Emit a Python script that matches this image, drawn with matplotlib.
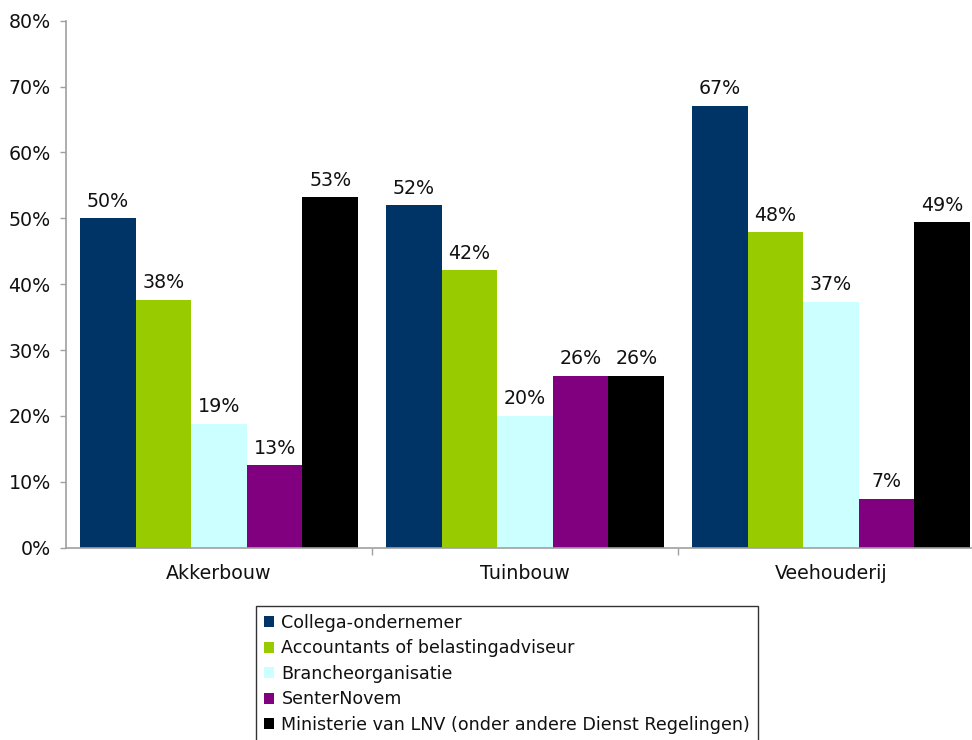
import numpy as np
import matplotlib
matplotlib.use("Agg")
import matplotlib.pyplot as plt
from matplotlib.patches import Patch

categories = ["Akkerbouw", "Tuinbouw", "Veehouderij"]
series = ["Collega-ondernemer", "Accountants of belastingadviseur",
          "Brancheorganisatie", "SenterNovem",
          "Ministerie van LNV (onder andere Dienst Regelingen)"]
colors = ["#003366", "#99CC00", "#CCFFFF", "#800080", "#000000"]

collega = [50.0, 52.0, 67.1]
accountants = [37.6, 42.1, 47.9]
branche = [18.8, 20.0, 37.3]
senternovem = [12.5, 26.1, 7.4]
ministerie = [53.2, 26.1, 49.4]
values = [collega, accountants, branche, senternovem, ministerie]

labels = [["50%", "52%", "67%"],
          ["38%", "42%", "48%"],
          ["19%", "20%", "37%"],
          ["13%", "26%", "7%"],
          ["53%", "26%", "49%"]]

W, H = 972, 740
fig = plt.figure(figsize=(W / 100, H / 100), dpi=100)
plt.rcParams['font.family'] = ['DejaVu Sans']
fs = 13.7
txt = '#111111'

# axes runs past the right edge of the picture, like the original
left, right, top, bottom = 66, 984, 20.7, 547.7
ax = fig.add_axes([left / W, 1 - bottom / H, (right - left) / W, (bottom - top) / H])

x = np.arange(len(categories))
bw = 0.1817
for i, (vals, col) in enumerate(zip(values, colors)):
    pos = x + (i - 2) * bw
    ax.bar(pos, vals, width=bw, color=col, edgecolor='none')
    for p, v, lab in zip(pos, vals, labels[i]):
        ax.annotate(lab, (p, v), xytext=(0, 5.5), textcoords='offset points',
                    ha='center', va='bottom', fontsize=fs, color=txt)

ax.set_xlim(-0.5, 2.5)
ax.set_ylim(0, 80)
ax.set_yticks(np.arange(0, 81, 10))
ax.set_yticklabels([f"{v}%" for v in range(0, 81, 10)], fontsize=fs, color=txt)
ax.set_xticks(x)
ax.set_xticklabels(categories, fontsize=fs, color=txt)
ax.set_xticks([0.5, 1.5, 2.5], minor=True)
ax.tick_params(axis='x', which='major', length=0, pad=12)
ax.tick_params(axis='x', which='minor', length=5, color='#A0A0A0', width=1)
ax.tick_params(axis='y', length=4, color='#A0A0A0', width=1, pad=7)

for s in ['top', 'right']:
    ax.spines[s].set_visible(False)
for s in ['left', 'bottom']:
    ax.spines[s].set_color('#A0A0A0')
    ax.spines[s].set_linewidth(1.2)

handles = [Patch(facecolor=c, edgecolor='none') for c in colors]
leg = fig.legend(handles, series, loc='upper left',
                 bbox_to_anchor=(256 / W, 1 - 606 / H),
                 fontsize=12.6, frameon=True, fancybox=False,
                 handlelength=0.6, handleheight=0.6, handletextpad=0.4,
                 labelspacing=0.43, borderpad=0.45, borderaxespad=0)
leg.get_frame().set_edgecolor('#000000')
leg.get_frame().set_linewidth(1.0)
for t in leg.get_texts():
    t.set_color(txt)

fig.savefig("out.png", dpi=100)
